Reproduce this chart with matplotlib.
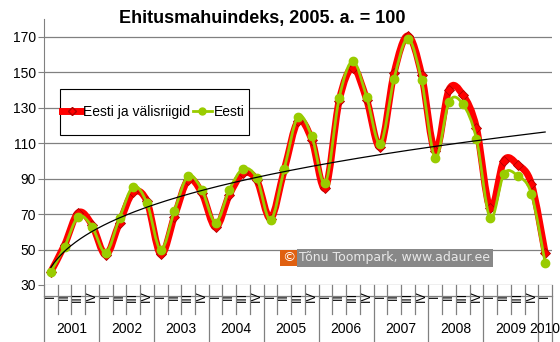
import numpy as np
import matplotlib.pyplot as plt
import matplotlib.transforms as mtransforms
from matplotlib.path import Path
from matplotlib.patches import PathPatch, Rectangle
from matplotlib.lines import Line2D

plt.rcParams['font.family'] = ['Liberation Sans', 'DejaVu Sans']

# Data: quarterly construction index, 2005 = 100
years = ['2001', '2002', '2003', '2004', '2005', '2006', '2007', '2008', '2009', '2010']
quarters = ['I', 'II', 'III', 'IV']
n_points = 37  # 2001 I ... 2010 I

total = [37.5, 52.6, 70.8, 63.9,
         47.0, 65.2, 82.2, 77.1,
         47.3, 68.6, 89.3, 81.8,
         62.6, 80.8, 93.0, 89.0,
         67.5, 95.0, 122.3, 112.0,
         84.8, 134.0, 152.4, 134.5,
         108.0, 149.6, 170.5, 148.6,
         105.3, 140.2, 137.3, 118.5,
         73.3, 100.2, 97.8, 87.1,
         48.1]
estonia = [37.5, 51.6, 68.6, 62.9,
           48.2, 67.7, 85.5, 76.2,
           49.8, 71.8, 91.6, 83.5,
           65.2, 83.7, 95.5, 90.3,
           66.5, 95.5, 124.9, 113.8,
           87.6, 135.5, 156.2, 136.0,
           109.7, 146.4, 169.0, 145.4,
           101.6, 133.2, 132.1, 112.3,
           67.7, 92.7, 91.6, 81.4,
           42.6]

RED = '#ff0000'
GREEN = '#99cc00'
GRID = '#808080'


def smooth_path(x, y):
    # bezier through the points, like a smoothed spreadsheet line
    verts = [(x[0], y[0])]
    codes = [Path.MOVETO]
    n = len(x)
    for i in range(n - 1):
        a = i - 1 if i > 0 else i
        d = i + 2 if i + 2 < n else i + 1
        c1 = (x[i] + (x[i + 1] - x[a]) / 6, y[i] + (y[i + 1] - y[a]) / 6)
        c2 = (x[i + 1] - (x[d] - x[i]) / 6, y[i + 1] - (y[d] - y[i]) / 6)
        verts += [c1, c2, (x[i + 1], y[i + 1])]
        codes += [Path.CURVE4] * 3
    return Path(verts, codes)


fig = plt.figure(figsize=(5.6, 3.42), dpi=100)
ax = fig.add_axes([44 / 560, 1 - 285 / 342, 508 / 560, 266 / 342])

xs = np.arange(n_points)

ax.add_patch(PathPatch(smooth_path(xs, total), fill=False, edgecolor=RED, lw=5.0,
                       capstyle='round', joinstyle='round', zorder=3))
ax.plot(xs, total, linestyle='none', marker='D', markersize=5.5, color=RED,
        markeredgecolor='#b00000', markeredgewidth=0.6, zorder=4)
ax.add_patch(PathPatch(smooth_path(xs, estonia), fill=False, edgecolor=GREEN, lw=2.0,
                       capstyle='round', joinstyle='round', zorder=5))
ax.plot(xs, estonia, linestyle='none', marker='o', markersize=6, color=GREEN,
        markeredgecolor=GREEN, zorder=6)

# power trend line on the first series
coef = np.polyfit(np.log(xs + 1), np.log(total), 1)
tx = np.linspace(0, n_points - 1, 300)
ax.plot(tx, np.exp(coef[1]) * (tx + 1) ** coef[0], color='black', lw=0.9, zorder=7)

ax.set_xlim(-0.5, n_points - 0.5)
ax.set_ylim(30, 180)
ax.set_yticks(range(30, 171, 20))
ax.yaxis.grid(True, color=GRID, lw=0.9)
ax.set_axisbelow(True)
ax.tick_params(axis='y', length=4, color=GRID, labelsize=10, pad=2)
ax.set_xticks([])
for s in ['top', 'right', 'bottom']:
    ax.spines[s].set_visible(False)
ax.spines['left'].set_color(GRID)

# two-level category axis
trans = mtransforms.blended_transform_factory(ax.transData, ax.transAxes)
ax.plot([-0.5, n_points - 0.5], [-0.041, -0.041], color=GRID, lw=0.9,
        transform=trans, clip_on=False)
for i in range(n_points):
    ax.text(i, -0.043, quarters[i % 4], rotation=90, ha='center', va='center',
            fontsize=9, transform=trans)
for i in range(n_points + 1):
    bottom = -0.30 if i % 4 == 0 or i == n_points else -0.11
    ax.plot([i - 0.5, i - 0.5], [0, bottom], color=GRID, lw=0.9,
            transform=trans, clip_on=False)
for k, yr in enumerate(years):
    first = k * 4
    last = min(first + 3, n_points - 1)
    ax.text((first + last) / 2, -0.165, yr, ha='center', va='center',
            fontsize=10, transform=trans)

fig.text(262 / 560, 0.945, 'Ehitusmahuindeks, 2005. a. = 100', ha='center', va='center',
         fontsize=13, fontweight='bold')

handles = [Line2D([], [], color=RED, lw=5.0, marker='D', markersize=4,
                  markeredgecolor='#b00000'),
           Line2D([], [], color=GREEN, lw=2.0, marker='o', markersize=5)]
leg = fig.legend(handles, ['Eesti ja välisriigid', 'Eesti'], ncol=2,
                 loc='center left', bbox_to_anchor=(62 / 560, 1 - 112 / 342),
                 fontsize=10, frameon=False,
                 handlelength=1.4, handletextpad=0.1,
                 columnspacing=0.2, borderpad=0, borderaxespad=0)
leg.set_zorder(10)
fig.patches.append(Rectangle((60 / 560, 1 - 135 / 342), 189 / 560, 46 / 342,
                             transform=fig.transFigure, fill=True, facecolor='white',
                             edgecolor='black', lw=0.8, zorder=9))

# watermark
fig.text(289 / 560, 1 - 258 / 342, '©', ha='center', va='center', fontsize=9.5,
         color='white', family='DejaVu Sans',
         bbox=dict(boxstyle='square,pad=0.15', facecolor='#e06010', edgecolor='none'))
fig.text(299 / 560, 1 - 258 / 342, 'Tõnu Toompark, www.adaur.ee', ha='left', va='center',
         fontsize=9, color='#e8e8e8', family='DejaVu Sans',
         bbox=dict(boxstyle='square,pad=0.2', facecolor='#888888', edgecolor='none'))

fig.savefig('out.png', dpi=100)
